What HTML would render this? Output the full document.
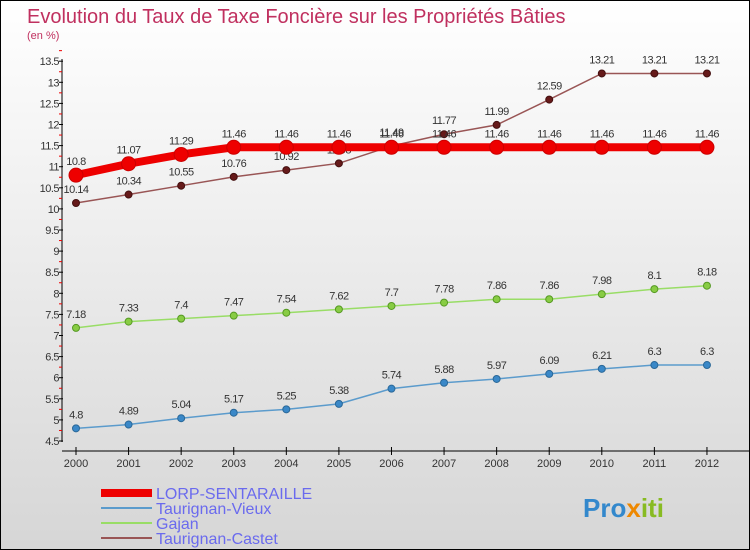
<!DOCTYPE html>
<html><head><meta charset="utf-8"><style>
body{margin:0}
#c{position:relative;width:748px;height:548px;border:1px solid #000;background:linear-gradient(#ffffff,#d6d6d6);font-family:"Liberation Sans",sans-serif;overflow:hidden}
</style></head><body>
<div id="c">
<svg width="748" height="548" xmlns="http://www.w3.org/2000/svg" id="s">
<text x="26" y="22" font-size="20" fill="#c0305f">Evolution du Taux de Taxe Foncière sur les Propriétés Bâties</text>
<text x="26" y="38" font-size="11" fill="#c0305f">(en %)</text>
<g id="axes"></g><g id="series"></g>
<g>
<rect x="100" y="488" width="51" height="8" fill="#ee0000"/>
<text x="155" y="498" font-size="16" fill="#6a6aee">LORP-SENTARAILLE</text>
<line x1="100" y1="507" x2="151" y2="507" stroke="#5b9bcc" stroke-width="2"/>
<text x="155" y="513" font-size="16" fill="#6a6aee">Taurignan-Vieux</text>
<line x1="100" y1="522" x2="151" y2="522" stroke="#99dd66" stroke-width="2"/>
<text x="155" y="528" font-size="16" fill="#6a6aee">Gajan</text>
<line x1="100" y1="537" x2="151" y2="537" stroke="#995555" stroke-width="2"/>
<text x="155" y="543" font-size="16" fill="#6a6aee">Taurignan-Castet</text>
</g>
<text x="582" y="516" font-size="26" font-weight="bold"><tspan fill="#3388cc">Pro</tspan><tspan fill="#ee8800">x</tspan><tspan fill="#88bb22">iti</tspan></text>
</svg>
</div>
<script>
const years=[2000,2001,2002,2003,2004,2005,2006,2007,2008,2009,2010,2011,2012];
const lorp=[10.8,11.07,11.29,11.46,11.46,11.46,11.46,11.46,11.46,11.46,11.46,11.46,11.46];
const vieux=[4.8,4.89,5.04,5.17,5.25,5.38,5.74,5.88,5.97,6.09,6.21,6.3,6.3];
const gajan=[7.18,7.33,7.4,7.47,7.54,7.62,7.7,7.78,7.86,7.86,7.98,8.1,8.18];
const castet=[10.14,10.34,10.55,10.76,10.92,11.08,11.49,11.77,11.99,12.59,13.21,13.21,13.21];
const yTicks=[4.5,5,5.5,6,6.5,7,7.5,8,8.5,9,9.5,10,10.5,11,11.5,12,12.5,13,13.5];
const NS="http://www.w3.org/2000/svg";
const X=i=>75+i*52.58;
const Y=v=>440-(v-4.5)*42.2;
function mk(t,a,p){const e=document.createElementNS(NS,t);for(const k in a)e.setAttribute(k,a[k]);p.appendChild(e);return e;}
const ax=document.getElementById('axes');
let e=mk('line',{x1:61,y1:58,x2:61,y2:441,stroke:'#000'},ax);


e=mk('line',{x1:61,y1:450,x2:748,y2:450,stroke:'#000'},ax);


yTicks.forEach(v=>{
 mk('line',{x1:58,y1:Y(v),x2:62,y2:Y(v),stroke:'#000'},ax);
 mk('line',{x1:58,y1:Y(v+0.25),x2:61,y2:Y(v+0.25),stroke:'#e00'},ax);
 const t=mk('text',{x:58,y:Y(v)+4,'text-anchor':'end','font-size':11,fill:'#333','letter-spacing':'-0.5'},ax);
 t.textContent=v;
 
 
});
years.forEach((y,i)=>{
 mk('line',{x1:X(i),y1:446,x2:X(i),y2:454,stroke:'#000'},ax);
 const t=mk('text',{x:X(i),y:466,'text-anchor':'middle','font-size':11,fill:'#333'},ax);
 t.textContent=y;
 
 
});
const sg=document.getElementById('series');
function series(vals,name,color,w,r,dot,stroke){
 const g=mk('g',{},sg);
 
 
 const l=mk('polyline',{points:vals.map((v,i)=>X(i)+','+Y(v)).join(' '),fill:'none',stroke:color,'stroke-width':w},g);
 
 
 vals.forEach((v,i)=>{
  const c=mk('circle',{cx:X(i),cy:Y(v),r:r,fill:dot,stroke:stroke,'stroke-width':1},g);
  
  
  const t=mk('text',{x:X(i),y:Y(v)-10,'text-anchor':'middle','font-size':11,fill:'#333','letter-spacing':'-0.5'},g);
  t.textContent=v;
  
  
 });
}
series(vieux,'taurignan-vieux','#5b9bcc',1.5,3.5,'#3a88c8','#2a6898');
series(gajan,'gajan','#99dd66',1.5,3.5,'#88cc44','#559922');
series(castet,'taurignan-castet','#995555',1.5,3.5,'#661a1a','#441010');
series(lorp,'lorp-sentaraille','#ee0000',8,7,'#ee0000','#cc0000');
</script>
</body></html>
